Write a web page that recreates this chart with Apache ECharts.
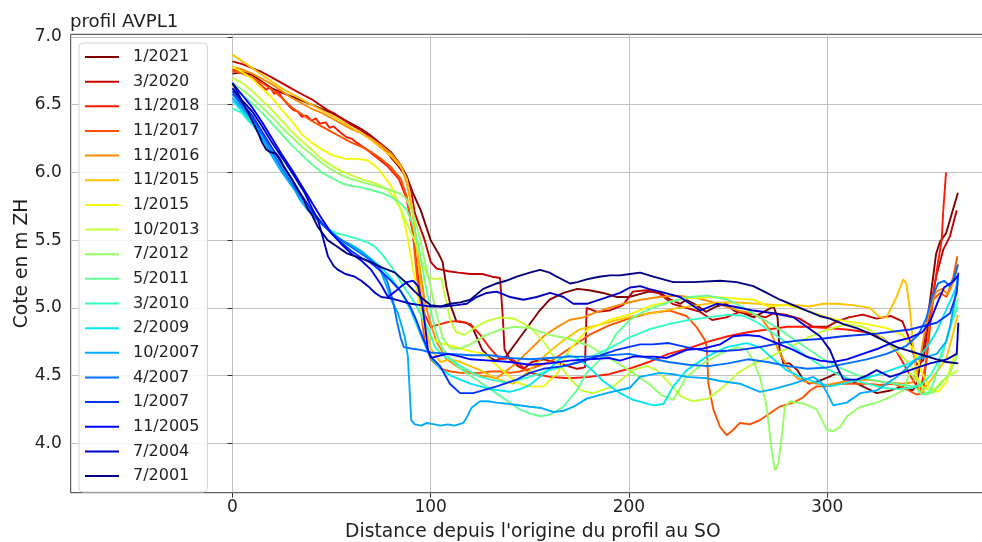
<!DOCTYPE html>
<html>
<head>
<meta charset="utf-8">
<script src="https://cdn.jsdelivr.net/npm/echarts@6/dist/echarts.min.js"></script>
<style>
  html, body { margin: 0; padding: 0; background: #fff; }
  #chart { width: 982px; height: 542px; }
</style>
</head>
<body>
<div id="chart"></div>
<script>
// Survey dates, newest first (legend order)
const surveyDates = ['1/2021', '3/2020', '11/2018', '11/2017', '11/2016', '11/2015', '1/2015',
  '10/2013', '7/2012', '5/2011', '3/2010', '2/2009', '10/2007', '4/2007', '1/2007',
  '11/2005', '7/2004', '7/2001'];

// Each profile: [distance from origin (m), elevation (m ZH)]
const prof_2021_01 = [[0,6.73],[5,6.74],[10,6.72],[15,6.67],[20,6.62],[25,6.59],[30,6.56],[35,6.53],[40,6.50],[45,6.47],[50,6.44],[55,6.40],[60,6.36],[65,6.32],[70,6.27],[75,6.21],[80,6.15],[85,6.05],[88,5.97],[91,5.85],[95,5.72],[100,5.50],[104,5.40],[106,5.34],[108,5.15],[110,5.02],[113,4.90],[118,4.89],[121,4.86],[126,4.69],[130,4.63],[133,4.61],[138,4.64],[143,4.74],[148,4.84],[155,4.98],[160,5.06],[167,5.11],[174,5.14],[180,5.13],[187,5.11],[194,5.08],[200,5.08],[205,5.10],[210,5.12],[216,5.11],[221,5.06],[226,5.03],[229,5.06],[234,5.02],[239,4.97],[244,5.01],[249,5.03],[253,4.98],[258,4.96],[263,4.93],[268,4.97],[273,5.01],[275,4.93],[276,4.69],[278,4.59],[281,4.59],[285,4.54],[288,4.47],[291,4.44],[296,4.46],[301,4.49],[305,4.52],[311,4.47],[318,4.42],[325,4.37],[332,4.39],[338,4.42],[343,4.39],[345,4.42],[348.5,4.71],[352,5.06],[355,5.40],[357,5.49],[360,5.55],[363,5.70],[366,5.85]];
const prof_2020_03 = [[0,6.82],[5,6.80],[10,6.77],[15,6.74],[20,6.70],[25,6.66],[31,6.61],[36,6.57],[40,6.54],[44,6.50],[48,6.46],[52,6.43],[56,6.39],[60,6.35],[65,6.31],[70,6.26],[74,6.21],[77,6.17],[80,6.11],[83,6.06],[86,6.00],[88,5.94],[90,5.88],[92,5.70],[95,5.58],[97,5.50],[100,5.34],[103,5.29],[106,5.28],[109,5.27],[114,5.26],[120,5.25],[126,5.25],[131,5.23],[135,5.22],[136.3,4.95],[137.3,4.69],[140,4.62],[144,4.57],[147,4.55],[151,4.60],[157,4.62],[162,4.60],[167,4.58],[174,4.55],[177.8,4.56],[178.7,5.00],[184,4.97],[190,4.98],[197,5.02],[202,5.12],[209,5.13],[215,5.11],[222,5.03],[229,5.00],[236,4.97],[242,4.91],[249,4.93],[256,4.97],[263,4.95],[269,4.93],[273,4.96],[279,4.95],[286,4.92],[293,4.86],[300,4.86],[305,4.90],[311,4.93],[318,4.95],[325,4.92],[332,4.94],[338,4.90],[342,4.75],[345,4.58],[348.5,4.61],[352,4.98],[355,5.23],[358.6,5.43],[362,5.53],[365.4,5.72]];
const prof_2018_11 = [[0,6.76],[5,6.74],[10,6.70],[14,6.65],[17,6.61],[19,6.63],[21,6.58],[23,6.60],[25.6,6.54],[28,6.50],[30.7,6.46],[33,6.45],[35,6.41],[37.4,6.42],[40,6.38],[42,6.40],[44,6.36],[47,6.37],[49,6.33],[51,6.34],[54,6.30],[57.6,6.26],[60,6.25],[62.7,6.22],[67.7,6.17],[72,6.12],[78,6.05],[84,5.95],[88,5.80],[91,5.55],[94,5.20],[97,4.95],[100,4.86],[105,4.88],[110,4.90],[115,4.90],[120,4.88],[125,4.80],[130,4.70],[135,4.62],[140,4.63],[145,4.58],[150,4.52],[160,4.49],[170,4.48],[180,4.49],[190,4.51],[200,4.55],[210,4.60],[220,4.66],[230,4.70],[240,4.75],[250,4.79],[260,4.82],[270,4.84],[280,4.86],[290,4.86],[300,4.85],[310,4.84],[320,4.82],[328,4.78],[335,4.68],[340,4.55],[344,4.45],[347,4.39],[350.2,4.61],[353.6,5.11],[356.1,5.35],[357.8,5.50],[358.6,5.72],[359.5,5.90],[360,6.00]];
const prof_2017_11 = [[0,6.75],[5,6.73],[10,6.70],[15,6.66],[20,6.61],[25,6.55],[30,6.48],[35,6.43],[40,6.38],[45,6.34],[50,6.30],[55,6.26],[60,6.22],[65,6.19],[70,6.15],[75,6.10],[80,6.04],[85,5.95],[88,5.82],[91,5.55],[94,5.10],[97,4.75],[100,4.62],[105,4.55],[110,4.53],[115,4.52],[120,4.52],[125,4.52],[130,4.53],[135,4.53],[140,4.52],[145,4.53],[150,4.55],[160,4.60],[170,4.70],[180,4.80],[190,4.87],[200,4.92],[210,4.96],[220.7,4.98],[229,4.94],[234,4.86],[238.4,4.76],[239.3,4.71],[240.1,4.44],[242.6,4.25],[246,4.12],[249.3,4.06],[252.7,4.10],[256,4.15],[261,4.14],[266,4.17],[271,4.22],[276,4.27],[283,4.30],[288,4.34],[291.4,4.39],[294.8,4.42],[300,4.42],[306.6,4.44],[313,4.44],[320,4.44],[326.7,4.43],[333.5,4.44],[340,4.40],[345,4.36],[348.5,4.37],[351.1,4.81],[353.6,5.06],[357,5.11],[360.3,5.08],[363.7,5.23],[365.7,5.38]];
const prof_2016_11 = [[0,6.78],[5,6.76],[10,6.73],[15,6.69],[20,6.65],[25,6.60],[30,6.55],[35,6.51],[40,6.47],[45,6.44],[50,6.40],[55,6.36],[60,6.32],[65,6.29],[70,6.25],[75,6.20],[80,6.14],[85,6.05],[88,5.92],[91,5.70],[94,5.35],[97,5.05],[100,4.88],[103,4.75],[108,4.62],[115,4.55],[120,4.52],[125,4.50],[130,4.49],[133,4.48],[137,4.52],[143,4.59],[150,4.69],[157,4.79],[164,4.86],[170,4.91],[177,4.93],[184,4.97],[190,5.00],[197,5.03],[206,5.06],[215,5.08],[225,5.09],[235,5.07],[245,5.03],[255,4.98],[262,4.96],[267,4.92],[271,4.84],[275,4.70],[280,4.56],[285,4.48],[290,4.45],[300,4.43],[310,4.46],[320,4.47],[330,4.45],[338,4.44],[343,4.45],[346,4.55],[349,4.80],[352,5.00],[355,5.12],[358,5.14],[361,5.10],[364,5.20],[366,5.32]];
const prof_2015_11 = [[0,6.87],[5,6.82],[10,6.77],[15,6.72],[20,6.67],[25,6.62],[30,6.58],[35,6.54],[40,6.50],[45,6.46],[50,6.42],[55,6.38],[60,6.33],[65,6.29],[70,6.24],[75,6.18],[80,6.12],[85,6.04],[88,5.95],[91,5.72],[94,5.30],[97,4.90],[100,4.70],[105,4.60],[110,4.62],[115,4.60],[120,4.57],[125,4.54],[130,4.50],[136,4.46],[141.7,4.44],[150,4.54],[158.5,4.66],[167,4.76],[175,4.84],[184,4.87],[194,4.91],[206,4.95],[215,4.97],[225,5.00],[235,5.02],[245,5.04],[255,5.04],[265,5.03],[275,5.02],[285,5.02],[291,5.01],[298,5.03],[305,5.03],[313,5.02],[321.6,5.00],[326.6,4.93],[330,4.93],[335,5.08],[338.4,5.21],[340,5.18],[341.8,4.98],[343.5,4.71],[345.2,4.49],[347,4.37],[350,4.42],[355,4.52],[360,4.62],[363,4.78],[366,4.95]];
const prof_2015_01 = [[0,6.78],[5,6.74],[10,6.69],[15,6.62],[20,6.55],[25,6.46],[31,6.36],[35,6.28],[40,6.22],[45,6.17],[50,6.13],[57,6.10],[63,6.10],[68,6.09],[72,6.05],[75,6.00],[80,5.90],[85,5.72],[88,5.55],[91,5.30],[94,5.05],[97,4.85],[100,4.78],[105,4.74],[110,4.72],[115,4.70],[120,4.68],[127,4.66],[133,4.58],[140,4.49],[145,4.44],[150,4.42],[157,4.42],[164,4.52],[170,4.69],[179,4.84],[190,4.91],[200,4.95],[212,5.02],[229,5.07],[243,5.08],[253,5.07],[263,5.06],[270,5.01],[280,5.02],[290,4.98],[300,4.93],[310,4.90],[320,4.88],[330,4.85],[338,4.80],[344,4.68],[348,4.52],[352,4.40],[356,4.38],[360,4.45],[363,4.60],[366,4.70]];
const prof_2013_10 = [[0,6.70],[5,6.66],[10,6.60],[15,6.53],[20,6.46],[25,6.38],[30,6.30],[35,6.23],[40,6.17],[45,6.10],[50,6.05],[55,6.01],[60,5.98],[65,5.95],[70,5.93],[75,5.90],[78.5,5.87],[82,5.80],[85.2,5.72],[88,5.62],[91.9,5.50],[95.3,5.35],[98.6,5.23],[102,5.21],[105.3,5.22],[107,5.10],[110,4.90],[113,4.82],[117,4.80],[122,4.85],[128,4.90],[135,4.93],[142,4.92],[150,4.86],[157,4.75],[164,4.60],[170,4.48],[176,4.39],[182,4.37],[192,4.42],[202,4.54],[209,4.57],[214,4.54],[220,4.45],[226,4.35],[232,4.31],[240,4.33],[248,4.42],[255,4.52],[262,4.58],[270,4.63],[280,4.70],[290,4.78],[300,4.84],[310,4.88],[318,4.86],[326,4.80],[334,4.70],[342,4.58],[348,4.42],[353,4.38],[358,4.46],[362,4.50],[366,4.54]];
const prof_2012_07 = [[0,6.66],[5,6.61],[10,6.55],[15,6.48],[20,6.41],[25,6.33],[30,6.26],[35,6.19],[40,6.13],[45,6.07],[50,6.02],[55,5.98],[60,5.95],[65,5.93],[70,5.91],[75,5.89],[80,5.87],[85,5.84],[88,5.80],[91,5.70],[94,5.55],[97,5.35],[100,5.15],[103,4.95],[106,4.78],[110,4.70],[115,4.70],[120,4.73],[128,4.80],[135,4.84],[142,4.86],[150,4.85],[160,4.80],[170,4.77],[180,4.72],[190,4.63],[200,4.54],[210,4.44],[216,4.36],[222.4,4.32],[229,4.49],[237.5,4.59],[246,4.66],[254.4,4.71],[259.4,4.69],[262.8,4.61],[266.1,4.49],[269.5,4.27],[272,3.95],[273.7,3.80],[275.4,3.85],[277.1,4.05],[278.7,4.27],[281.3,4.31],[284.7,4.30],[289,4.29],[294.8,4.25],[299.8,4.10],[303,4.09],[306.6,4.12],[310,4.20],[316.7,4.27],[325,4.30],[331.7,4.34],[338.4,4.39],[341.8,4.52],[346,4.45],[350,4.36],[354,4.38],[358,4.45],[362,4.52],[366,4.66]];
const prof_2011_05 = [[0,6.62],[5,6.57],[10,6.51],[15,6.44],[20,6.36],[25,6.28],[30,6.20],[35,6.13],[40,6.06],[45,6.00],[50,5.96],[55,5.92],[60,5.90],[65,5.89],[70,5.87],[75,5.85],[80,5.82],[85,5.77],[88,5.72],[91,5.62],[94,5.45],[97,5.20],[100,4.98],[103,4.80],[106,4.70],[110,4.62],[115,4.55],[120,4.50],[125,4.45],[130,4.40],[135,4.35],[140,4.30],[145,4.25],[150,4.22],[155,4.20],[160,4.21],[167,4.27],[173.7,4.39],[178.7,4.52],[187,4.64],[193.8,4.81],[200.5,4.91],[205.7,4.96],[212,5.00],[220,5.04],[230,5.08],[240,5.09],[250,5.06],[258,5.00],[266,4.93],[274,4.86],[282,4.78],[290,4.70],[298,4.62],[306,4.56],[314,4.51],[322,4.47],[330,4.45],[338,4.43],[344,4.42],[348,4.36],[352,4.38],[356,4.55],[360,4.75],[363,4.92],[366,5.07]];
const prof_2010_03 = [[0,6.47],[2,6.46],[4.7,6.44],[8,6.38],[11.2,6.34],[15,6.27],[19.6,6.19],[25,6.07],[30,5.95],[35,5.82],[40,5.70],[45,5.62],[48.4,5.58],[53,5.55],[58.5,5.53],[63,5.51],[68.6,5.48],[72,5.45],[75.3,5.40],[80.4,5.30],[85.4,5.18],[92.2,5.03],[98.9,4.84],[102.2,4.71],[106,4.65],[110,4.62],[115,4.57],[120,4.53],[125,4.49],[130,4.47],[138,4.45],[145,4.47],[152,4.50],[160,4.54],[170,4.58],[180,4.63],[190,4.70],[200,4.78],[210,4.84],[220,4.88],[230,4.91],[240,4.93],[250,4.95],[258,4.94],[265,4.89],[272,4.82],[280,4.74],[288,4.66],[296,4.58],[304,4.52],[312,4.47],[320,4.44],[328,4.41],[336,4.40],[343,4.41],[348,4.44],[352,4.50],[356,4.60],[360,4.75],[363,4.90],[366,5.01]];
const prof_2009_02 = [[0,6.53],[5,6.45],[10,6.36],[15,6.25],[20,6.13],[25,6.02],[30,5.91],[35,5.80],[40,5.70],[45,5.62],[50,5.56],[55,5.50],[60,5.45],[65,5.41],[70,5.36],[75,5.30],[80,5.22],[85,5.12],[90,4.98],[95,4.80],[100,4.63],[105,4.55],[110,4.50],[115,4.47],[120,4.44],[125,4.42],[130,4.40],[135,4.39],[140,4.38],[145,4.40],[150,4.43],[155,4.49],[160,4.55],[165,4.62],[169,4.65],[174,4.63],[180,4.56],[187,4.46],[195.5,4.37],[202.2,4.32],[212.3,4.28],[217.4,4.29],[222.4,4.42],[229.2,4.54],[239.3,4.64],[249.3,4.71],[259.4,4.74],[266.1,4.71],[272.9,4.62],[279.6,4.54],[286.3,4.49],[296.4,4.44],[301.4,4.42],[308,4.44],[316,4.47],[324,4.50],[332,4.54],[340,4.58],[346,4.63],[351,4.72],[355,4.82],[359,4.95],[363,5.08],[366,5.18]];
const prof_2007_10 = [[0,6.55],[5,6.47],[10,6.38],[15,6.25],[20,6.12],[25,6.00],[31.4,5.87],[34,5.80],[38.1,5.72],[42,5.66],[46.5,5.60],[50,5.56],[54.9,5.50],[58,5.48],[61.7,5.45],[65,5.42],[68.4,5.38],[72,5.33],[75.1,5.26],[78,5.15],[80.1,5.06],[83.5,4.96],[86.9,4.79],[88.5,4.64],[89.4,4.39],[90.2,4.17],[92,4.14],[95.3,4.13],[98,4.15],[102,4.14],[105,4.13],[108.7,4.14],[112,4.13],[116.5,4.15],[118.5,4.20],[120.5,4.26],[124.9,4.31],[129,4.31],[133.3,4.30],[140,4.29],[150.1,4.27],[156,4.26],[162,4.23],[167,4.24],[172.1,4.27],[178.7,4.33],[188.8,4.37],[200.5,4.41],[205.6,4.49],[215.7,4.52],[222.4,4.51],[229.2,4.49],[239.3,4.48],[246,4.46],[256,4.44],[266.1,4.38],[272.9,4.40],[282.9,4.44],[293,4.49],[297,4.45],[300,4.37],[303.1,4.28],[309.9,4.30],[316.7,4.37],[325,4.39],[335.1,4.49],[345.2,4.62],[355.3,4.66],[360,4.75],[362,4.86],[364,5.02],[366,5.24]];
const prof_2007_04 = [[0,6.58],[5,6.49],[10,6.40],[15,6.28],[20,6.15],[25,6.03],[30,5.92],[35,5.81],[40,5.70],[45,5.62],[50,5.55],[55,5.50],[60,5.45],[65,5.40],[70,5.35],[74,5.30],[78,5.20],[81,5.05],[83,4.90],[85,4.77],[86.5,4.71],[90,4.70],[95,4.69],[100,4.67],[110,4.66],[120,4.65],[130,4.65],[140,4.63],[150,4.62],[160,4.63],[170,4.64],[180,4.64],[190,4.65],[200,4.66],[210,4.63],[220,4.60],[230,4.58],[240,4.57],[250,4.59],[260,4.62],[270,4.60],[280,4.57],[290,4.55],[300,4.56],[310,4.59],[320,4.62],[330,4.66],[340,4.72],[346,4.80],[350,4.92],[353,5.08],[356,5.18],[359,5.20],[362,5.16],[364,5.22],[366,5.32]];
const prof_2007_01 = [[0,6.60],[5,6.51],[10,6.42],[15,6.30],[20,6.18],[25,6.06],[30,5.95],[35,5.83],[40,5.72],[45,5.63],[50,5.55],[55,5.48],[60,5.42],[65,5.37],[70,5.33],[75,5.27],[80,5.20],[85,5.12],[90,5.00],[93,4.90],[96,4.78],[100,4.64],[104.7,4.57],[109.7,4.44],[114.8,4.37],[121.5,4.37],[133.3,4.42],[143.4,4.47],[150.1,4.52],[156.8,4.55],[166.9,4.57],[175.3,4.60],[183.7,4.64],[193.8,4.69],[205.7,4.73],[212,4.73],[220,4.74],[229,4.71],[239,4.68],[246,4.68],[256,4.69],[266,4.71],[276,4.74],[286,4.76],[296,4.77],[308,4.79],[325,4.81],[341.8,4.84],[355.3,4.89],[362,4.96],[365.4,5.11],[366.2,5.26]];
const prof_2005_11 = [[0,6.66],[5,6.57],[10,6.48],[15,6.37],[20,6.25],[25,6.13],[30,6.02],[35,5.90],[40,5.78],[45,5.66],[50,5.55],[55,5.47],[60,5.40],[65,5.35],[70,5.28],[75,5.17],[78.5,5.08],[82,5.12],[85.2,5.16],[88,5.19],[91.1,5.20],[93.6,5.16],[95.5,5.05],[97,4.89],[98.6,4.69],[100.3,4.63],[105.3,4.65],[108.7,4.66],[115,4.64],[120,4.62],[130,4.61],[140,4.60],[150,4.58],[160,4.59],[170,4.61],[180,4.62],[190,4.63],[195.5,4.61],[202.2,4.64],[212.3,4.64],[219,4.63],[222.4,4.65],[229.2,4.69],[237.6,4.70],[246,4.73],[252.7,4.79],[259.4,4.80],[266.1,4.79],[274.5,4.74],[282.9,4.69],[289.6,4.64],[296.4,4.61],[303,4.60],[310,4.62],[318,4.66],[326,4.70],[334,4.75],[342,4.78],[348,4.82],[352,4.90],[356,5.05],[359,5.15],[362,5.18],[364,5.20],[366,5.24]];
const prof_2004_07 = [[0,6.62],[5,6.53],[10,6.45],[15,6.34],[20,6.22],[25,6.11],[30,6.00],[33,5.93],[36.4,5.85],[40,5.74],[43.1,5.65],[46,5.50],[48.2,5.38],[51,5.31],[53.3,5.28],[57,5.25],[61.7,5.23],[65,5.20],[68.4,5.16],[72,5.11],[75.1,5.08],[80.1,5.07],[85,5.05],[90,5.03],[95,5.02],[99.6,5.01],[106.4,5.01],[113.1,5.02],[118.2,5.03],[123.2,5.08],[128.3,5.11],[133.3,5.12],[140.1,5.08],[146.8,5.06],[153.5,5.08],[160.3,5.11],[167,5.08],[172,5.03],[178.8,5.03],[187.2,5.07],[195.5,5.11],[200.6,5.15],[205.7,5.16],[210,5.14],[215.7,5.12],[225.8,5.08],[235.9,4.98],[244.3,5.03],[252.7,5.01],[262.8,4.98],[272.9,4.96],[283,4.93],[289.7,4.86],[296.4,4.79],[301.4,4.69],[304.8,4.57],[308.2,4.47],[314.9,4.47],[320,4.50],[325,4.54],[331.7,4.49],[336,4.51],[341.8,4.54],[351.9,4.59],[360.3,4.62],[365.4,4.66],[366.2,4.89]];
const prof_2001_07 = [[0,6.66],[3,6.58],[5,6.52],[8,6.44],[10,6.38],[13,6.29],[15,6.22],[17,6.17],[19,6.15],[22,6.14],[24,6.10],[26,6.04],[30,5.95],[33,5.87],[36,5.80],[38,5.73],[40,5.69],[43,5.60],[45,5.56],[48,5.50],[52,5.46],[55,5.43],[58,5.40],[62,5.38],[68,5.35],[75,5.30],[82,5.26],[88,5.18],[92,5.12],[95,5.08],[100,5.02],[105,5.01],[110,5.03],[115,5.04],[120,5.06],[126.5,5.14],[133.3,5.18],[138,5.20],[143.4,5.23],[150,5.26],[155.2,5.28],[160,5.26],[163.6,5.23],[170.3,5.18],[174,5.19],[178.7,5.21],[185,5.23],[190.5,5.24],[195.5,5.24],[200.6,5.25],[205.7,5.26],[212.3,5.23],[222.4,5.19],[232.5,5.19],[246,5.20],[254.4,5.19],[262.8,5.16],[269.5,5.11],[276.2,5.06],[282.9,5.02],[289.6,4.98],[296.2,4.94],[301.4,4.92],[308.2,4.88],[314.9,4.85],[321.6,4.81],[328.4,4.76],[335.1,4.71],[341.8,4.68],[348.5,4.65],[355.3,4.62],[360.3,4.60],[366.2,4.59]];

const profiles = [prof_2021_01, prof_2020_03, prof_2018_11, prof_2017_11, prof_2016_11, prof_2015_11,
  prof_2015_01, prof_2013_10, prof_2012_07, prof_2011_05, prof_2010_03, prof_2009_02, prof_2007_10,
  prof_2007_04, prof_2007_01, prof_2005_11, prof_2004_07, prof_2001_07];

// Axis ticks
const xTicks = [0, 100, 200, 300];
const yTicks = [4.0, 4.5, 5.0, 5.5, 6.0, 6.5, 7.0];

// Jet colour ramp, dark red (newest) to navy (oldest)
const lineColors = ['#800000', '#c40000', '#ff1a00', '#ff5200', '#ff8900', '#ffc100', '#f4f802',
  '#c4ff33', '#94ff63', '#63ff94', '#33ffc4', '#02e8f4', '#00acff', '#0071ff', '#0035ff',
  '#0000ff', '#0000c4', '#000080'];

const FONT = 'DejaVu Sans';
const TEXT = '#1e1e1e';

const chart = echarts.init(document.getElementById('chart'), null, { renderer: 'canvas' });

chart.setOption({
  animation: false,
  backgroundColor: '#ffffff',
  title: {
    text: 'profil AVPL1',
    left: 70,
    top: 13,
    padding: 0,
    textStyle: { fontFamily: FONT, fontSize: 18.2, fontWeight: 'normal', color: TEXT }
  },
  grid: {
    left: 70.7,
    top: 34.3,
    width: 924.3,
    height: 458.4,
    show: true,
    borderColor: '#3a3a3a',
    borderWidth: 1,
    backgroundColor: 'transparent',
    containLabel: false,
    outerBoundsMode: 'none'
  },
  legend: {
    orient: 'vertical',
    left: 79,
    top: 43,
    padding: [4, 8, 6, 6],
    itemGap: 4.65,
    itemWidth: 34,
    itemHeight: 2,
    icon: 'rect',
    backgroundColor: 'rgba(255,255,255,0.85)',
    borderColor: '#d4d4d4',
    borderWidth: 1,
    borderRadius: 4,
    textStyle: { fontFamily: FONT, fontSize: 16, color: TEXT, lineHeight: 20, padding: [0, 0, 0, 9] },
    data: surveyDates
  },
  xAxis: {
    type: 'value',
    min: -81.6,
    max: 384.7,
    axisLine: { show: false },
    axisTick: { show: true, length: 5, customValues: xTicks, lineStyle: { color: '#333' } },
    axisLabel: { customValues: xTicks, margin: 6, fontFamily: FONT, fontSize: 17, color: TEXT },
    splitLine: { show: true, lineStyle: { color: '#c0c0c0', width: 1 } },
    name: "Distance depuis l'origine du profil au SO",
    nameLocation: 'middle',
    nameGap: 30,
    nameMoveOverlap: false,
    nameTextStyle: { fontFamily: FONT, fontSize: 18.7, color: TEXT }
  },
  yAxis: {
    type: 'value',
    min: 3.635,
    max: 7.02,
    axisLine: { show: false },
    axisTick: { show: true, length: 5, customValues: yTicks, lineStyle: { color: '#333' } },
    axisLabel: {
      customValues: yTicks,
      margin: 9,
      formatter: v => v.toFixed(1),
      fontFamily: FONT, fontSize: 17, color: TEXT
    },
    splitLine: { show: true, lineStyle: { color: '#c0c0c0', width: 1 } },
    name: 'Cote en m ZH',
    nameLocation: 'middle',
    nameGap: 39,
    nameMoveOverlap: false,
    nameTextStyle: { fontFamily: FONT, fontSize: 18.7, color: TEXT }
  },
  series: surveyDates.map((d, i) => ({
    name: d,
    type: 'line',
    data: profiles[i],
    symbol: 'none',
    showSymbol: false,
    smooth: false,
    lineStyle: { width: 1.9, color: lineColors[i] },
    itemStyle: { color: lineColors[i] },
    emphasis: { disabled: true }
  }))
});
</script>
</body>
</html>
